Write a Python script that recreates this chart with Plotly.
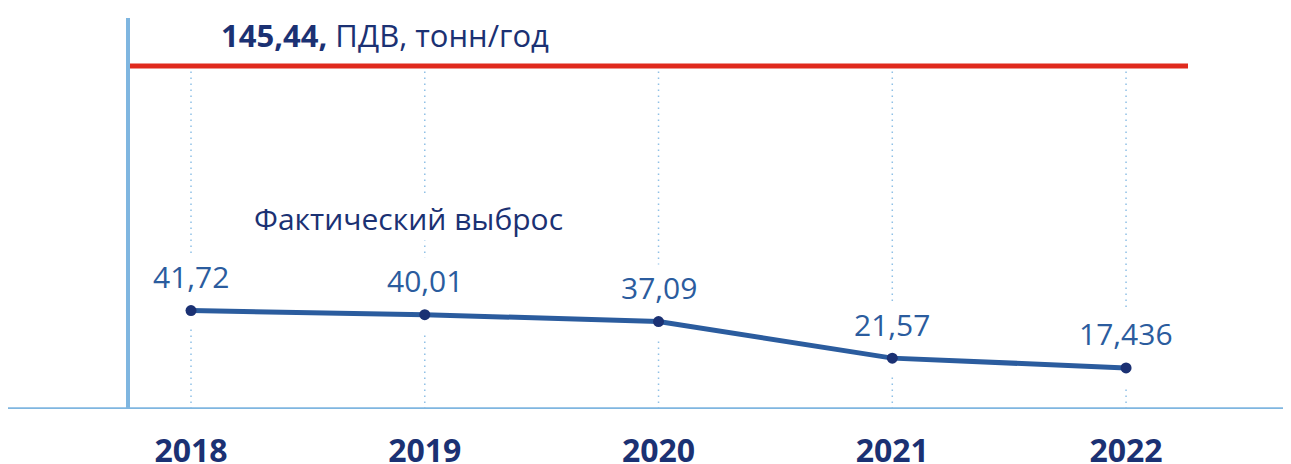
import plotly.graph_objects as go

years = ["2018", "2019", "2020", "2021", "2022"]
emissions = [41.72, 40.01, 37.09, 21.57, 17.436]
emission_labels = ["41,72", "40,01", "37,09", "21,57", "17,436"]
pdv_value = 145.44
pdv_label = "<b>145,44,</b> ПДВ, тонн/год"
series_label = "Фактический выброс"

NAVY = "#1b3173"
MID = "#2b5c9e"
AXIS = "#7fb6e0"
GRID = "#8fc0e6"
RED = "#e02a1d"
FONT = "Open Sans"

xs = list(range(len(years)))

fig = go.Figure()

# vertical dotted guides from the axis up to the PDV line
for i in xs:
    fig.add_shape(type="line", x0=i, x1=i, y0=0, y1=pdv_value, xref="x", yref="y",
                  line=dict(color=GRID, width=1.5, dash="1.5px,4.5px"), layer="below")

# white halos around markers (hide the guides near points)
fig.add_trace(go.Scatter(x=xs, y=emissions, mode="markers",
                         marker=dict(size=36, color="white"), hoverinfo="skip",
                         showlegend=False))
fig.add_trace(go.Scatter(x=xs, y=emissions, mode="lines+markers",
                         line=dict(color=MID, width=5),
                         marker=dict(size=11, color=NAVY), showlegend=False))

# PDV line
fig.add_shape(type="line", x0=0, x1=1, xref="paper", y0=pdv_value, y1=pdv_value, yref="y",
              line=dict(color=RED, width=5))

# full-width baseline
fig.add_shape(type="line", x0=-0.2, x1=1.2, xref="paper", y0=0, y1=0, yref="y",
              line=dict(color=AXIS, width=3.5))

for i, (v, t) in enumerate(zip(emissions, emission_labels)):
    fig.add_annotation(x=i, y=v, text=t, showarrow=False, yshift=34,
                       font=dict(family=FONT, size=30, color=MID),
                       bgcolor="white", borderpad=2)

fig.add_annotation(x=0.084, y=0.957, xref="paper", yref="paper", text=pdv_label,
                   showarrow=False, xanchor="left", yanchor="middle",
                   font=dict(family=FONT, size=31, color=NAVY))
fig.add_annotation(x=0.115, y=0.486, xref="paper", yref="paper", text=series_label,
                   showarrow=False, xanchor="left", yanchor="middle",
                   font=dict(family=FONT, size=30, color=NAVY), bgcolor="white")

fig.update_layout(
    width=1283, height=456,
    margin=dict(l=122, r=103, t=10, b=55),
    paper_bgcolor="white", plot_bgcolor="white",
    xaxis=dict(range=[-0.261, 4.265], tickvals=xs, ticktext=["<b>%s</b>" % y for y in years],
               showgrid=False, zeroline=False, showline=False, ticks="", automargin=False,
               tickfont=dict(family=FONT, size=32, color=NAVY), ticklabelstandoff=20),
    yaxis=dict(range=[0, 165.8], showgrid=False, zeroline=False, showticklabels=False,
               showline=True, linecolor=AXIS, linewidth=3.5, ticks="", automargin=False),
)

fig.write_html("out.html")
